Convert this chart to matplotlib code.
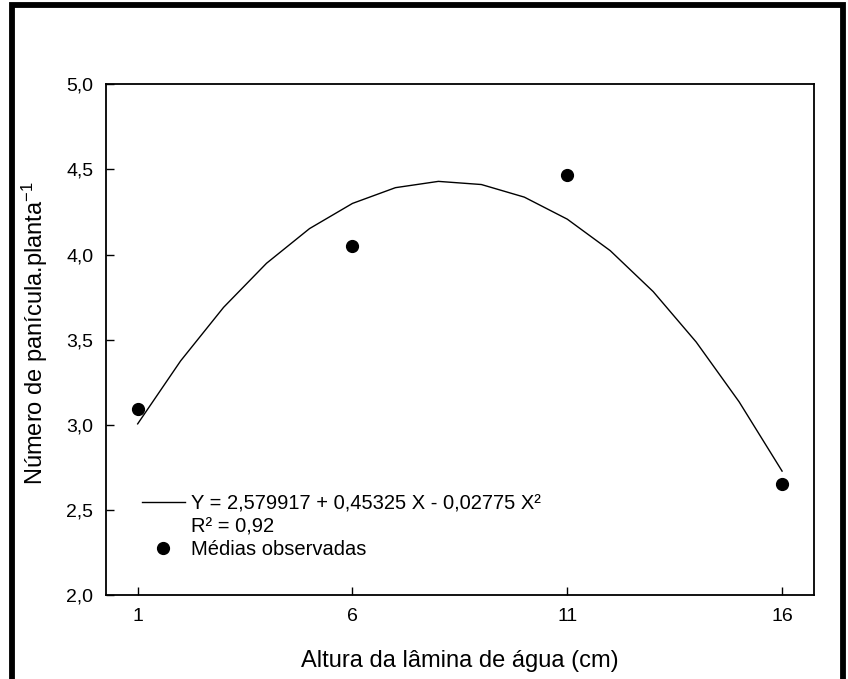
import numpy as np
import matplotlib.pyplot as plt
from matplotlib.lines import Line2D
from matplotlib.patches import Rectangle

plt.rcParams['font.family'] = ['Liberation Sans', 'DejaVu Sans']
plt.rcParams['mathtext.fontset'] = 'custom'
plt.rcParams['mathtext.rm'] = 'Liberation Sans'
plt.rcParams['mathtext.it'] = 'Liberation Sans'

# observed means
lamina = [1, 6, 11, 16]
paniculas = [3.09, 4.05, 4.47, 2.65]

# fitted quadratic (coefficients as given in the legend)
b0, b1, b2 = 2.579917, 0.45325, -0.02775
x_fit = np.arange(1, 17)
y_fit = b0 + b1 * x_fit + b2 * x_fit ** 2

fig = plt.figure(figsize=(8.48, 6.79), dpi=100)
ax = fig.add_axes([0.1246, 0.1237, 0.8354, 0.7521])

ax.plot(x_fit, y_fit, color='black', lw=1.0)
ax.plot(lamina, paniculas, 'o', color='black', ms=8.5)

ax.set_xlim(0.255, 16.745)
ax.set_ylim(2.0, 5.0)
ax.set_xticks([1, 6, 11, 16])
ax.set_yticks(np.arange(2.0, 5.01, 0.5))
ax.set_yticklabels([f'{v:.1f}'.replace('.', ',') for v in np.arange(2.0, 5.01, 0.5)])
ax.tick_params(direction='in', length=6, width=1, labelsize=14, pad=9)
for s in ax.spines.values():
    s.set_linewidth(1.3)

ax.set_xlabel('Altura da lâmina de água (cm)', fontsize=17)
ax.set_ylabel(r'Número de panícula.planta$^{-1}$', fontsize=17)
ax.xaxis.set_label_coords(0.5, -0.108)
ax.yaxis.set_label_coords(-0.079, 0.513)

handles = [Line2D([], [], color='black', lw=1.0),
           Line2D([], [], linestyle='none'),
           Line2D([], [], marker='o', linestyle='none', color='black', ms=8.5)]
labels = ['Y = 2,579917 + 0,45325 X - 0,02775 X²', 'R² = 0,92', 'Médias observadas']
ax.legend(handles, labels, loc='upper left', bbox_to_anchor=(0.051, 0.197),
          frameon=False, fontsize=14.5, borderpad=0, borderaxespad=0,
          handlelength=2.15, handletextpad=0.3, labelspacing=0.18)

# outer frame around the figure
fig.patches.append(Rectangle((12 / 848, -0.05), 831 / 848, 1 - 5 / 679 + 0.05,
                             transform=fig.transFigure, fill=False,
                             edgecolor='black', lw=4.2))

fig.savefig('out.png', dpi=100)
